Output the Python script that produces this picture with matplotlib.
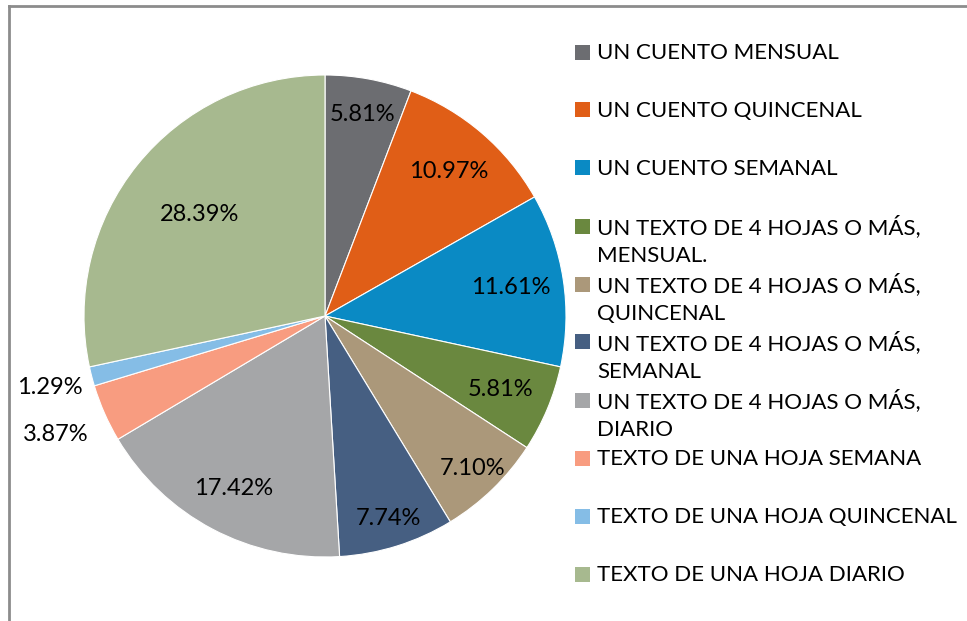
import numpy as np
import matplotlib.pyplot as plt
from matplotlib.patches import Rectangle
from matplotlib.lines import Line2D

plt.rcParams['font.family'] = ['Lato', 'DejaVu Sans']

# Data
categories = [
    "UN CUENTO MENSUAL",
    "UN CUENTO QUINCENAL",
    "UN CUENTO SEMANAL",
    "UN TEXTO DE 4 HOJAS O MÁS,\nMENSUAL.",
    "UN TEXTO DE 4 HOJAS O MÁS,\nQUINCENAL",
    "UN TEXTO DE 4 HOJAS O MÁS,\nSEMANAL",
    "UN TEXTO DE 4 HOJAS O MÁS,\nDIARIO",
    "TEXTO DE UNA HOJA SEMANA",
    "TEXTO DE UNA HOJA QUINCENAL",
    "TEXTO DE UNA HOJA DIARIO",
]
percentages = [5.81, 10.97, 11.61, 5.81, 7.10, 7.74, 17.42, 3.87, 1.29, 28.39]
colors = ["#6c6d71", "#e05e17", "#0a8ac4", "#6a883f", "#ab987a",
          "#465f82", "#a5a6a8", "#f89c80", "#85bde6", "#a7b98f"]
# radial distance of each percentage label (fraction of radius)
label_dist = [0.85, 0.79, 0.78, 0.79, 0.88, 0.88, 0.81, 1.22, 1.18, 0.67]

fig = plt.figure(figsize=(9.67, 6.21), dpi=100)

# Pie axes (centre ~ (325, 316) px, radius ~241 px)
W, H = 967, 621
cx, cy, r = 325, 316, 241
ax = fig.add_axes([(cx - r) / W, (H - cy - r) / H, 2 * r / W, 2 * r / H])
wedges, _ = ax.pie(percentages, colors=colors, startangle=90, counterclock=False,
                   radius=1, wedgeprops=dict(edgecolor="white", linewidth=0.8))
ax.set_xlim(-1, 1)
ax.set_ylim(-1, 1)
ax.set_aspect("equal")
ax.axis("off")

for w, p, d in zip(wedges, percentages, label_dist):
    ang = np.deg2rad((w.theta1 + w.theta2) / 2)
    ax.text(d * np.cos(ang), d * np.sin(ang), f"{p:.2f}%", ha="center", va="center",
            fontsize=17, color="black")

# Legend drawn by hand to match the layout
y0, step, line_h = 52, 58, 29
for i, (lab, c) in enumerate(zip(categories, colors)):
    y = y0 + i * step
    fig.add_artist(Rectangle((575 / W, 1 - (y + 7.5) / H), 15 / W, 15 / H,
                             transform=fig.transFigure, facecolor=c, edgecolor="none"))
    for j, line in enumerate(lab.split("\n")):
        fig.text(597 / W, 1 - (y + 1 + j * line_h) / H, line, ha="left",
                 va="center", fontsize=16, color="black")

# chart frame (left and top edges visible)
frame = dict(color="#8c8c8c", linewidth=2, transform=fig.transFigure)
fig.add_artist(Line2D([9 / W, 9 / W], [0, 1 - 6 / H], **frame))
fig.add_artist(Line2D([9 / W, 1], [1 - 6 / H, 1 - 6 / H], **frame))

plt.savefig("out.png", dpi=100)
